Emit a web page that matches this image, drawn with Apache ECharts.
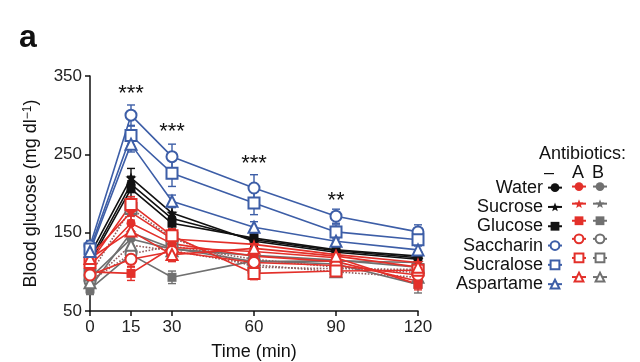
<!DOCTYPE html>
<html><head><meta charset="utf-8">
<script src="https://cdn.jsdelivr.net/npm/echarts@6/dist/echarts.min.js"></script>
<style>html,body{margin:0;padding:0;background:#fff}#c{width:640px;height:362px}</style>
</head><body><div id="c"></div>
<script>
// ---- data ----
const times = [0, 15, 30, 60, 90, 120];
const xTicks = [0, 15, 30, 60, 90, 120];
const sweeteners = ['Water', 'Sucrose', 'Glucose', 'Saccharin', 'Sucralose', 'Aspartame'];
const antibioticHeads = ['–', 'A', 'B'];

// no antibiotics (–)
const waterNone     = [116, 212, 168, 141, 127, 118];
const sucroseNone   = [122, 220, 175, 139, 125, 116];
const glucoseNone   = [112, 206, 162, 143, 128, 120];
const saccharinNone = [133, 300, 247, 207, 171, 151];
const sucraloseNone = [129, 274, 226, 188, 151, 141];
const aspartameNone = [126, 263, 190, 157, 139, 128];
// antibiotics A
const waterA     = [108, 162, 136, 120, 113, 88];
const sucroseA   = [120, 176, 142, 135, 122, 112];
const glucoseA   = [100, 98, 131, 126, 118, 84];
const saccharinA = [96, 116, 126, 112, 108, 96];
const sucraloseA = [112, 186, 146, 98, 101, 102];
const aspartameA = [117, 152, 122, 130, 120, 106];
// antibiotics B
const waterB     = [92, 142, 129, 121, 115, 106];
const sucroseB   = [80, 150, 130, 113, 114, 112];
const glucoseB   = [78, 122, 93, 114, 110, 84];
const saccharinB = [88, 123, 133, 116, 106, 99];
const sucraloseB = [96, 181, 143, 106, 104, 103];
const aspartameB = [86, 134, 127, 109, 100, 93];

// error bars (SEM)
const errWaterNone     = [6, 10, 8, 7, 5, 5];
const errSucroseNone   = [6, 12, 8, 7, 5, 5];
const errGlucoseNone   = [6, 10, 8, 7, 5, 5];
const errSaccharinNone = [7, 13, 16, 17, 9, 9];
const errSucraloseNone = [7, 12, 17, 15, 9, 8];
const errAspartameNone = [7, 10, 8, 7, 7, 6];
const errWaterA     = [8, 10, 9, 8, 6, 7];
const errSucroseA   = [8, 10, 9, 8, 6, 7];
const errGlucoseA   = [8, 9, 9, 8, 6, 7];
const errSaccharinA = [8, 10, 9, 8, 6, 7];
const errSucraloseA = [8, 10, 9, 8, 6, 7];
const errAspartameA = [8, 10, 9, 8, 6, 7];
const errWaterB     = [8, 10, 9, 8, 6, 7];
const errSucroseB   = [8, 10, 9, 8, 6, 7];
const errGlucoseB   = [7, 9, 8, 8, 6, 11];
const errSaccharinB = [8, 10, 9, 8, 6, 7];
const errSucraloseB = [8, 10, 9, 8, 6, 7];
const errAspartameB = [8, 10, 9, 8, 6, 7];

// significance marks
const sigTimes  = [15, 30, 60, 90];
const sigLevels = [327, 279, 238, 191];
const sigLabels = ['***', '***', '***', '**'];

// ---- styling ----
const FONT = 'Liberation Sans, Arial, Helvetica, sans-serif';
const BLACK = '#111111', RED = '#e3302a', GRAY = '#707070', BLUE = '#3d5ea7', DOT = '#8f5d5d';
const STAR = 'path://M0,-10 L2.6,-3.2 L9.5,-3.1 L4.2,1.4 L5.9,8.1 L0,4.3 L-5.9,8.1 L-4.2,1.4 L-9.5,-3.1 L-2.6,-3.2 Z';
const symbols = { Water: 'circle', Sucrose: STAR, Glucose: 'rect', Saccharin: 'emptyCircle', Sucralose: 'emptyRect', Aspartame: 'emptyTriangle' };
const sizes = { Water: 9, Sucrose: 11, Glucose: 9, Saccharin: 11, Sucralose: 11, Aspartame: 11 };

const seriesDefs = [
  // B (gray) first - drawn underneath
  ['Water B', 'Water', waterB, errWaterB, GRAY, GRAY, 'solid'],
  ['Sucrose B', 'Sucrose', sucroseB, errSucroseB, GRAY, GRAY, 'solid'],
  ['Glucose B', 'Glucose', glucoseB, errGlucoseB, GRAY, GRAY, 'solid'],
  ['Saccharin B', 'Saccharin', saccharinB, errSaccharinB, GRAY, DOT, 'dotted'],
  ['Sucralose B', 'Sucralose', sucraloseB, errSucraloseB, GRAY, DOT, 'dotted'],
  ['Aspartame B', 'Aspartame', aspartameB, errAspartameB, GRAY, DOT, 'dotted'],
  ['Water', 'Water', waterNone, errWaterNone, BLACK, BLACK, 'solid'],
  ['Sucrose', 'Sucrose', sucroseNone, errSucroseNone, BLACK, BLACK, 'solid'],
  ['Glucose', 'Glucose', glucoseNone, errGlucoseNone, BLACK, BLACK, 'solid'],
  ['Water A', 'Water', waterA, errWaterA, RED, RED, 'solid'],
  ['Sucrose A', 'Sucrose', sucroseA, errSucroseA, RED, RED, 'solid'],
  ['Glucose A', 'Glucose', glucoseA, errGlucoseA, RED, RED, 'solid'],
  ['Saccharin A', 'Saccharin', saccharinA, errSaccharinA, RED, RED, 'solid'],
  ['Sucralose A', 'Sucralose', sucraloseA, errSucraloseA, RED, RED, 'solid'],
  ['Aspartame A', 'Aspartame', aspartameA, errAspartameA, RED, RED, 'solid'],
  ['Saccharin', 'Saccharin', saccharinNone, errSaccharinNone, BLUE, BLUE, 'solid'],
  ['Sucralose', 'Sucralose', sucraloseNone, errSucraloseNone, BLUE, BLUE, 'solid'],
  ['Aspartame', 'Aspartame', aspartameNone, errAspartameNone, BLUE, BLUE, 'solid']
];

function errSeries(name, vals, errs, color) {
  return {
    type: 'custom', name: name + ' err', silent: true,
    data: times.map((t, i) => [t, vals[i], errs[i]]),
    renderItem: (params, api) => {
      const x = api.value(0), y = api.value(1), e = api.value(2);
      const p1 = api.coord([x, y + e]), p2 = api.coord([x, y - e]);
      const w = 4, st = { stroke: color, lineWidth: 1.4 };
      return { type: 'group', children: [
        { type: 'line', shape: { x1: p1[0], y1: p1[1], x2: p2[0], y2: p2[1] }, style: st },
        { type: 'line', shape: { x1: p1[0] - w, y1: p1[1], x2: p1[0] + w, y2: p1[1] }, style: st },
        { type: 'line', shape: { x1: p2[0] - w, y1: p2[1], x2: p2[0] + w, y2: p2[1] }, style: st }
      ] };
    }
  };
}

const series = [];
seriesDefs.forEach(d => {
  const [name, kind, vals, errs, color, lineColor, ls] = d;
  series.push(errSeries(name, vals, errs, color));
  series.push({
    type: 'line', name: name,
    data: times.map((t, i) => [t, vals[i]]),
    symbol: symbols[kind], symbolSize: sizes[kind],
    showAllSymbol: true,
    itemStyle: { color: color, borderWidth: 1.6 },
    lineStyle: { color: lineColor, width: 1.6, type: ls },
    emphasis: { disabled: true }
  });
});

series.push({
  type: 'custom', name: 'significance', silent: true,
  data: sigTimes.map((t, i) => [t, sigLevels[i]]),
  renderItem: (params, api) => {
    const p = api.coord([api.value(0), api.value(1)]);
    return { type: 'text', style: { text: sigLabels[params.dataIndex], x: p[0], y: p[1], align: 'center', verticalAlign: 'middle', fontSize: 22, fontFamily: FONT, fill: '#111' } };
  },
  clip: false
});

const ROW = 19.3, ICON_H = 11;
const legendBase = {
  orient: 'vertical', itemWidth: 14, itemHeight: ICON_H, padding: 0,
  selectedMode: false,
  textStyle: { fontFamily: FONT, fontSize: 18, color: '#111', lineHeight: ROW }
};

const option = {
  animation: false,
  backgroundColor: '#fff',
  grid: { left: 90, right: 222, top: 76, bottom: 51, outerBoundsMode: 'none' },
  xAxis: {
    type: 'value', min: 0, max: 120,
    name: 'Time (min)', nameLocation: 'middle', nameGap: 32,
    nameTextStyle: { fontFamily: FONT, fontSize: 18, color: '#111' },
    axisLine: { lineStyle: { color: '#111', width: 1.5 } },
    axisTick: { customValues: xTicks, length: 5, lineStyle: { color: '#111', width: 1.5 } },
    axisLabel: { customValues: xTicks, fontFamily: FONT, fontSize: 17, color: '#222', margin: 8 },
    splitLine: { show: false }
  },
  yAxis: {
    type: 'value', min: 50, max: 350, interval: 100,
    name: 'Blood glucose (mg dl{sup|−1})', nameLocation: 'middle', nameGap: 50,
    nameTextStyle: { fontFamily: FONT, fontSize: 18, color: '#111', rich: { sup: { fontFamily: FONT, fontSize: 12, color: '#111', verticalAlign: 'top', padding: [0, 0, 6, 0] } } },
    axisLine: { show: true, lineStyle: { color: '#111', width: 1.5 } },
    axisTick: { show: true, length: 5, lineStyle: { color: '#111', width: 1.5 } },
    axisLabel: { fontFamily: FONT, fontSize: 17, color: '#222', margin: 8 },
    splitLine: { show: false }
  },
  legend: [
    Object.assign({}, legendBase, { right: 77, top: 178, itemGap: 0, align: 'right', data: sweeteners, lineStyle: { type: 'solid' } }),
    Object.assign({}, legendBase, { left: 571, top: 178 + (ROW - ICON_H) / 2, itemGap: ROW - ICON_H, align: 'left', data: sweeteners.map(s => s + ' A'), formatter: () => '', lineStyle: { type: 'solid' } }),
    Object.assign({}, legendBase, { left: 592, top: 178 + (ROW - ICON_H) / 2, itemGap: ROW - ICON_H, align: 'left', data: sweeteners.map(s => s + ' B'), formatter: () => '', lineStyle: { type: 'solid', color: GRAY } })
  ],
  graphic: [
    { type: 'text', left: 19, top: 22, style: { text: 'a', fontFamily: FONT, fontSize: 32, fontWeight: 'bold', fill: '#111' } },
    { type: 'text', left: 539, top: 145, style: { text: 'Antibiotics:', fontFamily: FONT, fontSize: 18, fill: '#111' } },
    { type: 'text', left: 544, top: 164, style: { text: antibioticHeads[0], fontFamily: FONT, fontSize: 18, fill: '#111' } },
    { type: 'text', left: 572, top: 164, style: { text: antibioticHeads[1], fontFamily: FONT, fontSize: 18, fill: '#111' } },
    { type: 'text', left: 592, top: 164, style: { text: antibioticHeads[2], fontFamily: FONT, fontSize: 18, fill: '#111' } }
  ],
  series: series
};

const chart = echarts.init(document.getElementById('c'), null, { renderer: 'canvas' });
chart.setOption(option);
</script></body></html>
